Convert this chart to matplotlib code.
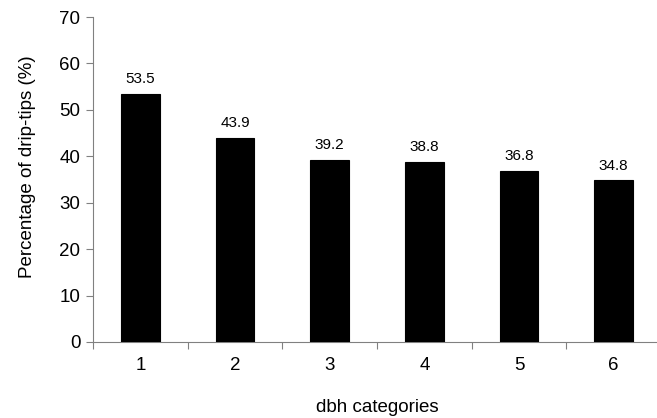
import matplotlib
matplotlib.use("Agg")
import matplotlib.pyplot as plt
import numpy as np

categories = ["1", "2", "3", "4", "5", "6"]
values = [53.5, 43.9, 39.2, 38.8, 36.8, 34.8]
value_labels = ["53.5", "43.9", "39.2", "38.8", "36.8", "34.8"]
yticks = [0, 10, 20, 30, 40, 50, 60, 70]

plt.rcParams['font.family'] = ['Liberation Sans', 'DejaVu Sans']

fig = plt.figure(figsize=(6.57, 4.18), dpi=100)
ax = fig.add_axes([93/657, 76/418, 568/657, 325/418])

x = np.arange(len(categories))
ax.bar(x, values, width=0.41, color='black', edgecolor='black', linewidth=0.8, zorder=3)
for xi, v, lab in zip(x, values, value_labels):
    ax.text(xi, v + 1.7, lab, ha='center', va='bottom', fontsize=11)

ax.set_xlim(-0.5, len(categories) - 0.5)
ax.set_ylim(0, 70)
ax.set_yticks(yticks)
ax.set_yticklabels([str(t) for t in yticks], fontsize=13.5)

ax.set_xticks(np.arange(-0.5, len(categories), 1.0))
ax.set_xticklabels([])
ax.set_xticks(x, minor=True)
ax.set_xticklabels(categories, minor=True, fontsize=13.5)
ax.tick_params(axis='x', which='minor', length=0, pad=11)
ax.tick_params(axis='x', which='major', length=5, color='#808080', direction='out')
ax.tick_params(axis='y', length=5, color='#808080', direction='out', pad=4)

for s in ['top', 'right']:
    ax.spines[s].set_visible(False)
for s in ['left', 'bottom']:
    ax.spines[s].set_color('#808080')
    ax.spines[s].set_linewidth(0.8)

ax.set_ylabel("Percentage of drip-tips (%)", fontsize=13.5, labelpad=17)
ax.yaxis.label.set_y(0.54)
ax.set_xlabel("dbh categories", fontsize=13.5, labelpad=18)

fig.savefig("out.png", dpi=100)
